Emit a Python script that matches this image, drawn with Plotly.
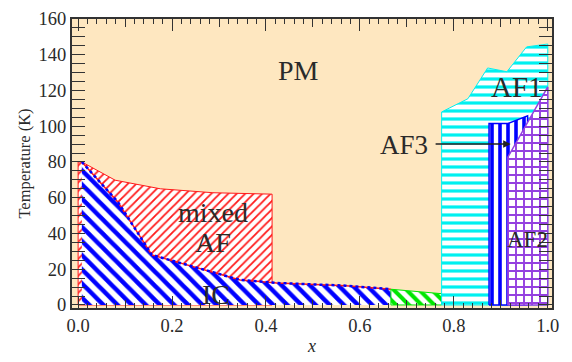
import plotly.graph_objects as go

# ---- data ----
mixed_x = [0.0, 0.0, 0.008, 0.079, 0.175, 0.287, 0.413, 0.413, 0.0]
mixed_y = [0, 80, 80, 69.8, 65, 62.8, 62, 0, 0]

ic_x = [0.008, 0.008, 0.085, 0.157, 0.274, 0.345, 0.423, 0.57, 0.666, 0.666, 0.008]
ic_y = [0, 80, 57.5, 28, 19.3, 14, 12.3, 10.8, 8.8, 0, 0]

green_x = [0.666, 0.666, 0.774, 0.774, 0.666]
green_y = [0, 8.8, 6.3, 0, 0]

af1_x = [0.774, 0.774, 0.83, 0.872, 0.913, 0.955, 1.0, 1.0, 0.774]
af1_y = [0, 108, 115.4, 132.6, 130.5, 144.4, 146, 0, 0]

af3_x = [0.875, 0.875, 0.915, 0.957, 0.957, 0.875]
af3_y = [0, 101.5, 101.5, 105.8, 0, 0]

af2_x = [0.915, 0.915, 1.0, 1.0, 0.915]
af2_y = [0, 82.7, 122, 0, 0]

labels = ["PM", "mixed", "AF", "IC", "AF1", "AF2"]
label_x = [0.47, 0.287, 0.287, 0.293, 0.935, 0.957]
label_y = [131, 52, 35, 6, 122, 36.5]
label_size = [28, 28, 28, 28, 29, 23]

af3_label = "AF3"
af3_label_xy = (0.694, 89.5)
af3_arrow_from = (0.758, 90)
af3_arrow_to = (0.921, 90)

xtick_major = [0.0, 0.2, 0.4, 0.6, 0.8, 1.0]
xtick_text = ["0.0", "0.2", "0.4", "0.6", "0.8", "1.0"]
xtick_mid = [0.1, 0.3, 0.5, 0.7, 0.9]
ytick_vals = [0, 20, 40, 60, 80, 100, 120, 140, 160]

BG = "#FEE7C0"
SERIF = "Liberation Serif"
INK = "#2a2a2a"

fig = go.Figure()

fig.add_trace(go.Scatter(
    x=mixed_x, y=mixed_y, mode="lines", fill="toself",
    line=dict(color="#ff1a1a", width=1),
    fillcolor="white",
    fillpattern=dict(shape="/", fgcolor="#ff1a1a", bgcolor="white", fgopacity=1,
                     size=6, solidity=0.3),
    hoverinfo="skip", showlegend=False))

fig.add_trace(go.Scatter(
    x=ic_x, y=ic_y, mode="lines", fill="toself",
    line=dict(color="rgba(0,0,0,0)", width=0),
    fillcolor="white",
    fillpattern=dict(shape="\\", fgcolor="#0000ff", bgcolor="white", fgopacity=1,
                     size=10, solidity=0.45),
    hoverinfo="skip", showlegend=False))

# IC boundary (red line with blue dots on top)
fig.add_trace(go.Scatter(
    x=ic_x[1:9], y=ic_y[1:9], mode="lines",
    line=dict(color="#ff1a1a", width=1.5),
    hoverinfo="skip", showlegend=False))
fig.add_trace(go.Scatter(
    x=ic_x[1:9], y=ic_y[1:9], mode="lines",
    line=dict(color="#0000ff", width=2.5, dash="dot"),
    hoverinfo="skip", showlegend=False))

fig.add_trace(go.Scatter(
    x=green_x, y=green_y, mode="lines", fill="toself",
    line=dict(color="#00e600", width=1),
    fillcolor="white",
    fillpattern=dict(shape="\\", fgcolor="#00e600", bgcolor="white", fgopacity=1,
                     size=9, solidity=0.45),
    hoverinfo="skip", showlegend=False))

fig.add_trace(go.Scatter(
    x=af1_x, y=af1_y, mode="lines", fill="toself",
    line=dict(color="#00f0f0", width=1),
    fillcolor="white",
    fillpattern=dict(shape="-", fgcolor="#00f0f0", bgcolor="white", fgopacity=1,
                     size=8, solidity=0.4),
    hoverinfo="skip", showlegend=False))

fig.add_trace(go.Scatter(
    x=af3_x, y=af3_y, mode="lines", fill="toself",
    line=dict(color="#0000ff", width=1.5),
    fillcolor="white",
    fillpattern=dict(shape="|", fgcolor="#0000ff", bgcolor="white", fgopacity=1,
                     size=8, solidity=0.45),
    hoverinfo="skip", showlegend=False))

fig.add_trace(go.Scatter(
    x=af2_x, y=af2_y, mode="lines", fill="toself",
    line=dict(color="#9440e0", width=1.5),
    fillcolor="white",
    fillpattern=dict(shape="+", fgcolor="#9440e0", bgcolor="white", fgopacity=1,
                     size=8, solidity=0.42),
    hoverinfo="skip", showlegend=False))

for t, lx, ly, s in zip(labels, label_x, label_y, label_size):
    fig.add_annotation(x=lx, y=ly, text=t, showarrow=False,
                       font=dict(family=SERIF, size=s, color=INK))

fig.add_annotation(x=af3_label_xy[0], y=af3_label_xy[1], text=af3_label, showarrow=False,
                   font=dict(family=SERIF, size=27, color=INK))
fig.add_annotation(x=af3_arrow_to[0], y=af3_arrow_to[1], ax=af3_arrow_from[0], ay=af3_arrow_from[1],
                   xref="x", yref="y", axref="x", ayref="y", text="", showarrow=True,
                   arrowhead=2, arrowsize=1, arrowwidth=1.5, arrowcolor="#222222")

fig.update_layout(
    width=572, height=362,
    margin=dict(l=72, r=20, t=9, b=50),
    paper_bgcolor="white", plot_bgcolor=BG,
    font=dict(family=SERIF, size=18, color=INK),
    xaxis=dict(
        range=[-0.013, 1.009], showgrid=False, zeroline=False,
        showline=True, linecolor="#333333", linewidth=2, mirror="allticks",
        ticks="inside", ticklen=12, tickwidth=1.3, tickcolor="#333333",
        tickmode="array", tickvals=xtick_major, ticktext=xtick_text,
        minor=dict(ticks="inside", ticklen=5, dtick=0.02, tick0=0, tickcolor="#333333", tickwidth=1.2),
        title=dict(text="<i>x</i>", font=dict(family=SERIF, size=18), standoff=4),
        tickfont=dict(family=SERIF, size=18.5, color=INK),
    ),
    xaxis2=dict(
        overlaying="x", matches="x", anchor="y", side="bottom",
        showgrid=False, zeroline=False, showline=True, linecolor="#333333", linewidth=2,
        mirror="ticks",
        ticks="inside", ticklen=8, tickwidth=1.3, tickcolor="#333333",
        tickmode="array", tickvals=xtick_mid, showticklabels=False,
    ),
    yaxis=dict(
        range=[-1.7, 160], showgrid=False, zeroline=False,
        showline=True, linecolor="#333333", linewidth=2, mirror="allticks",
        ticks="inside", ticklen=13, tickwidth=1.3, tickcolor="#333333",
        tickmode="array", tickvals=ytick_vals,
        minor=dict(ticks="inside", ticklen=6, dtick=5, tick0=0, tickcolor="#333333", tickwidth=1.2),
        title=dict(text="Temperature (K)", font=dict(family=SERIF, size=16.5), standoff=4),
        tickfont=dict(family=SERIF, size=18.5, color=INK),
    ),
)

# invisible trace to activate the mid-tick axis
fig.add_trace(go.Scatter(x=[0.5], y=[-10], xaxis="x2", yaxis="y", mode="markers",
                         marker=dict(opacity=0), hoverinfo="skip", showlegend=False))

fig.write_html("out.html")
